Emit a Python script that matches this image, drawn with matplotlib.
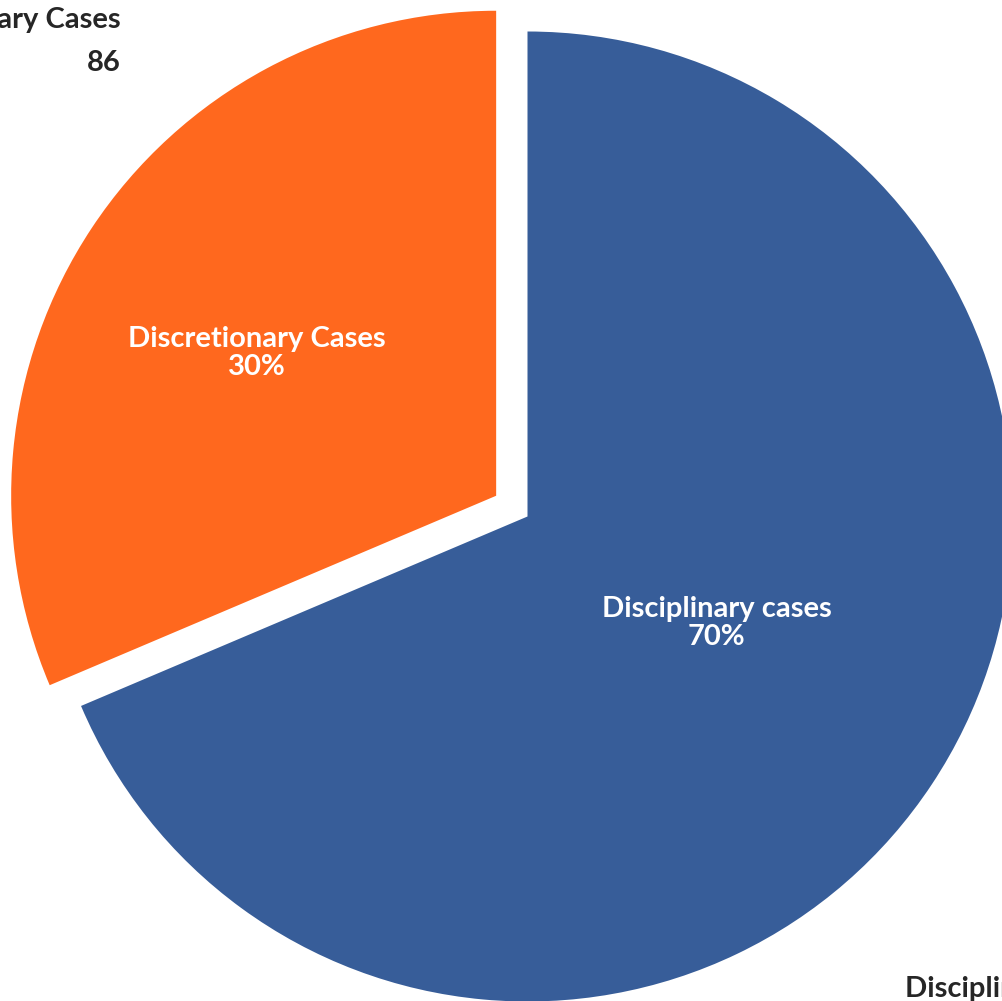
import matplotlib.pyplot as plt

labels = ['Disciplinary cases', 'Discretionary Cases']
counts = [188, 86]          # slice sizes as drawn in the picture
pct_labels = ['70%', '30%']  # percentages as printed on the chart
colors = ['#375D99', '#FF681E']

fig = plt.figure(figsize=(10.02, 10.01), dpi=100)
ax = fig.add_axes([0, 0, 1, 1])

ax.pie(counts, colors=colors, startangle=90, counterclock=False,
       explode=[0, 0.0775], radius=1, wedgeprops=dict(linewidth=0))

# crop the view like the original (pie runs off the edges)
ax.set_xlim(-527.5 / 485, 474.5 / 485)
ax.set_ylim(-484.5 / 485, 516.5 / 485)
ax.set_aspect('equal')
ax.axis('off')

fnt = dict(family=['Lato', 'DejaVu Sans'], fontweight='bold', fontsize=21)

# inside labels
ax.text(-0.559, 0.337, f'{labels[1]}\n{pct_labels[1]}', color='white', ha='center', va='center',
        linespacing=1.1, **fnt)
ax.text(0.390, -0.219, f'{labels[0]}\n{pct_labels[0]}', color='white', ha='center', va='center',
        linespacing=1.1, **fnt)

# outside labels (cut off by the frame)
ax.text(-0.839, 0.979, f'{labels[1]}\n{counts[1]}', color='#262626', ha='right', va='center',
        linespacing=1.78, **fnt)
ax.text(0.779, -0.975, f'{labels[0]}', color='#262626', ha='left', va='center', **fnt)
ax.text(0.779, -1.06, f'{counts[0]}', color='#262626', ha='left', va='center', **fnt)

fig.savefig('out.png', dpi=100)
